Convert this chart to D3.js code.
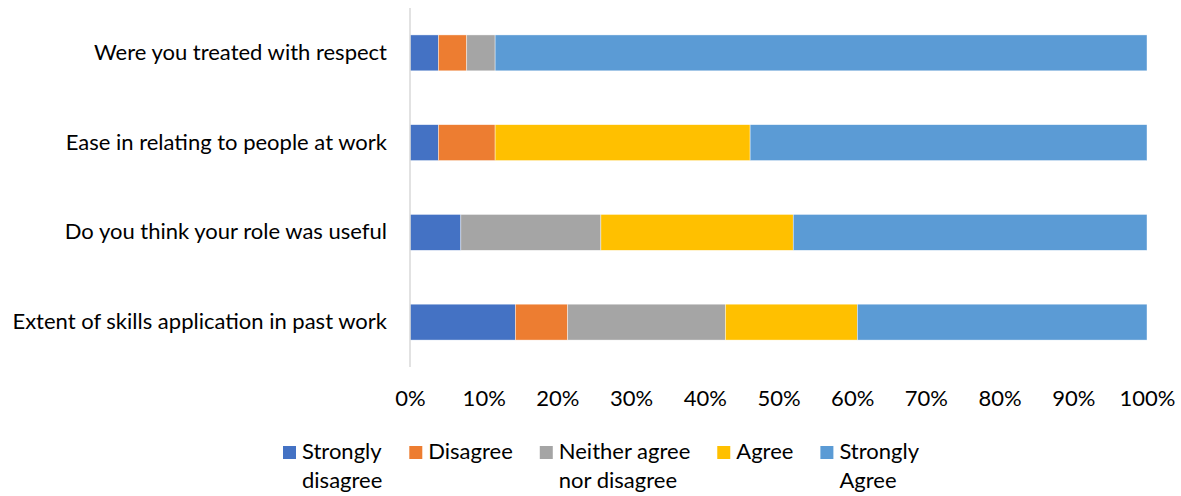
<!DOCTYPE html>
<html>
<head>
<meta charset="utf-8">
<script src="https://cdn.jsdelivr.net/npm/d3@7"></script>
<style>
  body { margin: 0; background: #fff; }
  text { font-family: Lato, "Open Sans", sans-serif; fill: #000; }
</style>
</head>
<body>
<div class="box"></div>
<script>
// DATA

const questions = [
  'Were you treated with respect',
  'Ease in relating to people at work',
  'Do you think your role was useful',
  'Extent of skills application in past work'
];
const seriesNames = ['Strongly disagree', 'Disagree', 'Neither agree nor disagree', 'Agree', 'Strongly Agree'];
// legend text broken on two lines like the original
const legendLines = [['Strongly', 'disagree'], ['Disagree'], ['Neither agree', 'nor disagree'], ['Agree'], ['Strongly', 'Agree']];
const colors = ['#4472C4', '#ED7D31', '#A5A5A5', '#FFC000', '#5B9BD5'];

// percentages, one array per series (same order as questions)
const stronglyDisagree = [3.85, 3.85, 6.9, 14.3];
const disagree = [3.85, 7.7, 0, 7.1];
const neither = [3.85, 0, 19.0, 21.4];
const agree = [0, 34.6, 26.1, 17.9];
const stronglyAgree = [88.45, 53.85, 48.0, 39.3];

const tickValues = [0, 0.1, 0.2, 0.3, 0.4, 0.5, 0.6, 0.7, 0.8, 0.9, 1];

// SETUP

const width = 1181, height = 496;
const fontSize = '22px';
const svg = d3.select('.box')
              .append('svg')
              .attr('width', width)
              .attr('height', height);

const plot = {left: 410, right: 1147, top: 8, bottom: 367};

// table for d3.stack
const table = questions.map((q, i) => ({
  question: q,
  'Strongly disagree': stronglyDisagree[i],
  'Disagree': disagree[i],
  'Neither agree nor disagree': neither[i],
  'Agree': agree[i],
  'Strongly Agree': stronglyAgree[i]
}));

const stacked = d3.stack()
                  .keys(seriesNames)
                  .offset(d3.stackOffsetExpand)(table);

const x = d3.scaleLinear()
            .domain([0, 1])
            .range([plot.left, plot.right]);

const y = d3.scaleBand()
            .domain(questions)
            .range([plot.top, plot.bottom])
            .paddingInner(0.6)
            .paddingOuter(0.3);

const color = d3.scaleOrdinal().domain(seriesNames).range(colors);

// bars
svg.append('g')
   .selectAll('g')
   .data(stacked)
   .enter()
   .append('g')
   .attr('fill', d => color(d.key))
   .selectAll('rect')
   .data(d => d)
   .enter()
   .append('rect')
   .attr('x', d => x(d[0]))
   .attr('y', d => y(d.data.question))
   .attr('width', d => x(d[1]) - x(d[0]))
   .attr('height', y.bandwidth())
   .attr('stroke', '#fff')
   .attr('stroke-width', 0.6)
   .attr('stroke-opacity', d => (d[1] - d[0]) > 0 ? 0.7 : 0);

// vertical axis line
svg.append('line')
   .attr('x1', plot.left).attr('x2', plot.left)
   .attr('y1', plot.top).attr('y2', plot.bottom)
   .attr('stroke', '#d9d9d9')
   .attr('stroke-width', 1.5);

// x axis
const axeX = d3.axisBottom(x)
               .tickValues(tickValues)
               .tickSize(0)
               .tickPadding(23)
               .tickFormat(d3.format('.0%'));
const gx = svg.append('g')
              .attr('transform', `translate(0, ${plot.bottom})`)
              .call(axeX);
gx.select('.domain').remove();
gx.selectAll('text')
  .style('font-family', 'Lato, sans-serif')
  .style('font-size', fontSize)
  .attr('fill', '#000');

// y axis (category labels)
const axeY = d3.axisLeft(y)
               .tickSize(0)
               .tickPadding(23);
const gy = svg.append('g')
              .attr('transform', `translate(${plot.left}, 0)`)
              .call(axeY);
gy.select('.domain').remove();
gy.selectAll('text')
  .style('font-family', 'Lato, sans-serif')
  .style('font-size', fontSize)
  .attr('fill', '#000');

// legend, laid out left to right from measured text widths
const legend = svg.append('g');
let lx = 283;
seriesNames.forEach((name, i) => {
  const item = legend.append('g').attr('transform', `translate(${lx}, 0)`);
  item.append('rect')
      .attr('x', 0).attr('y', 446)
      .attr('width', 13).attr('height', 13)
      .attr('fill', colors[i]);
  const t = item.append('text')
                .attr('x', 19)
                .attr('y', 458.5)
                .style('font-size', fontSize);
  legendLines[i].forEach((line, j) => {
    t.append('tspan')
     .attr('x', 19)
     .attr('y', 458.5 + j * 29)
     .text(line);
  });
  const w = t.node().getBBox().width;
  lx += 19 + w + 27;
});
</script>
</body>
</html>
